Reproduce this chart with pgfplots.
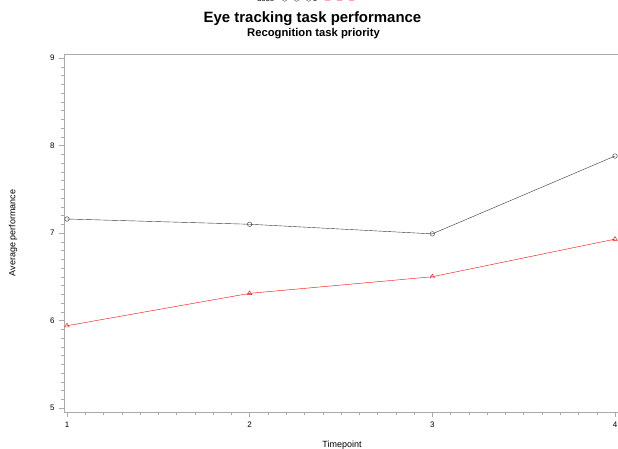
\documentclass[border=0pt]{standalone}
\usepackage{pgfplots}
\pgfplotsset{compat=1.18}
\usepackage{fontspec}
\setmainfont{Liberation Sans}
\definecolor{axgray}{RGB}{170,170,170}
\pgfplotsset{threemark/.style={legend image code/.code={\draw[##1] plot coordinates {(0bp,0bp) (12bp,0bp) (24bp,0bp)};}}}
\begin{document}
\begin{tikzpicture}
\begin{axis}[
  scale only axis,
  width=556bp, height=358bp,
  xmin=0.9836, xmax=4.0274,
  ymin=4.954, ymax=9.046,
  xtick={1,2,3,4}, ytick={5,6,7,8,9},
  minor x tick num=9, minor y tick num=9,
  tick align=outside, tick pos=left,
  major tick length=5bp, minor tick length=3bp,
  every tick/.style={axgray},
  axis line style={axgray},
  tick label style={font=\fontsize{8}{9}\selectfont},
  /pgf/number format/assume math mode=true,
  xticklabel style={yshift=-1bp},
  yticklabel style={xshift=-1bp},
  xlabel={Timepoint}, ylabel={Average performance},
  label style={font=\fontsize{9}{10}\selectfont},
  xlabel style={yshift=-7bp},
  ylabel style={yshift=26bp},
  legend columns=-1,
  legend style={draw=none, fill=none, at={(axis description cs:0.44,1)}, anchor=center, yshift=55bp,
    font=\fontsize{8}{9}\selectfont, /tikz/every even column/.append style={column sep=6bp}},
  clip=false,
]
\coordinate (A) at (rel axis cs:0,0);
\coordinate (B) at (rel axis cs:0,1);
\addlegendimage{empty legend}
\addlegendentry{dose}
\addplot[black!80, mark=o, mark size=2.3, mark options={solid}, threemark]
  coordinates {(1,7.16) (2,7.10) (3,6.99) (4,7.88)};
\addlegendentry{0}
\addplot[red, mark=triangle, mark size=2.6, mark options={solid}, threemark]
  coordinates {(1,5.94) (2,6.31) (3,6.50) (4,6.93)};
\addlegendentry{1}
\end{axis}
\node[font=\bfseries\fontsize{15}{17}\selectfont] at ([xshift=248.5bp,yshift=35bp]B) {Eye tracking task performance};
\node[font=\bfseries\fontsize{11.3}{13}\selectfont] at ([xshift=249.5bp,yshift=20bp]B) {Recognition task priority};
\pgfresetboundingbox
\path[use as bounding box] ([xshift=-64bp,yshift=-37bp]A) rectangle ([xshift=554bp,yshift=54bp]B);
\end{tikzpicture}
\end{document}
